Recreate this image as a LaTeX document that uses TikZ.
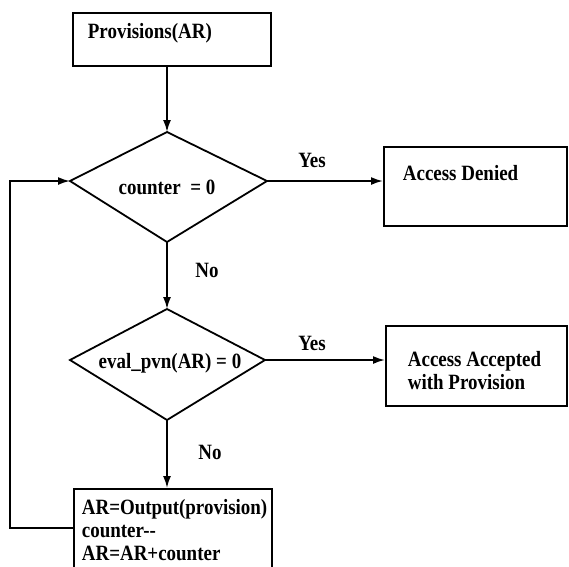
\documentclass[tikz,border=0pt]{standalone}
\usepackage{fontspec}
\setmainfont{Liberation Serif}[FakeStretch=0.87]
\usetikzlibrary{arrows.meta}
\begin{document}
\begin{tikzpicture}[x=1pt,y=-1pt,
  line width=1.8pt,
  box/.style={draw, rectangle, inner sep=0pt, anchor=north west},
  lbl/.style={font=\fontsize{21.8}{23}\selectfont\bfseries, inner sep=0pt},
  arr/.style={-{Latex[length=12pt,width=8pt]}},
  ]
\useasboundingbox (0,0) rectangle (569,566);
% boxes
\node[box, minimum width=198pt, minimum height=53pt] (prov) at (72,12) {};
\node[box, minimum width=183pt, minimum height=79pt] (deny) at (383,146) {};
\node[box, minimum width=181pt, minimum height=80pt] (acc) at (385,325) {};
\node[box, minimum width=198pt, minimum height=100pt] (act) at (73,488) {};
% diamonds
\coordinate (d1t) at (167,132);
\coordinate (d1l) at (70,181);
\coordinate (d1r) at (267,181);
\coordinate (d1b) at (167,242);
\draw[line join=miter] (d1t) -- (d1r) -- (d1b) -- (d1l) -- cycle;
\coordinate (d2t) at (167,309);
\coordinate (d2l) at (70,360);
\coordinate (d2r) at (265,360);
\coordinate (d2b) at (167,420);
\draw[line join=miter] (d2t) -- (d2r) -- (d2b) -- (d2l) -- cycle;
% texts
\node[lbl, anchor=west] (tprov) at (87,33) {Provisions(AR)};
\node[lbl] (td1) at (167,187) {counter\ \ = 0};
\node[lbl] (td2) at (170,363) {eval\_pvn(AR) = 0};
\node[lbl, anchor=west] (tdeny) at (402,173) {Access Denied};
\node[lbl, anchor=west, align=left] (tacc) at (407,371) {Access Accepted\\with Provision};
\node[lbl, anchor=west, align=left] (tact) at (81,530) {AR=Output(provision)\\counter-{}-\\AR=AR+counter};
\node[lbl] (yes1) at (312,160) {Yes};
\node[lbl] (yes2) at (312,343) {Yes};
\node[lbl] (no1) at (207,270) {No};
\node[lbl] (no2) at (210,452) {No};
% connectors
\draw[arr] (d1t |- prov.south) -- (d1t);
\draw[arr] (d1b) -- (d2t);
\draw[arr] (d1r) -- (d1r -| deny.west);
\draw[arr] (d2r) -- (d2r -| acc.west);
\draw[arr] (d2b) -- (d2b |- act.north);
\coordinate (loop) at (10,528);
\draw[arr] (act.west |- loop) -- (loop) |- (d1l);
\end{tikzpicture}
\end{document}
